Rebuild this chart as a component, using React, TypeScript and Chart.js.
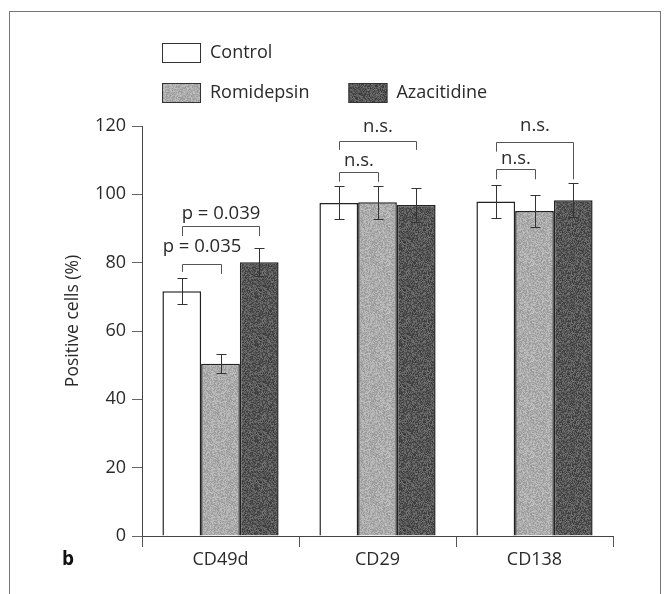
import React, { useEffect, useRef } from "react";
import { Chart, registerables } from "chart.js";

Chart.register(...registerables);

const categories = ["CD49d", "CD29", "CD138"];
const seriesNames = ["Control", "Romidepsin", "Azacitidine"];
const controlValues = [71.6, 97.5, 97.9];
const controlErrors = [3.8, 4.8, 4.9];
const romidepsinValues = [50.4, 97.7, 95.1];
const romidepsinErrors = [2.8, 4.8, 4.8];
const azacitidineValues = [80.1, 96.9, 98.3];
const azacitidineErrors = [4.1, 4.9, 5.0];
const yMin = 0;
const yMax = 120;
const yStep = 20;
const yTitle = "Positive cells (%)";
const panelLetter = "b";

// significance brackets: category, series from/to, bracket level, leg ends, label, label baseline
const bracketCategory = [0, 0, 1, 1, 2, 2];
const bracketFrom = [0, 0, 0, 0, 0, 0];
const bracketTo = [1, 2, 1, 2, 1, 2];
const bracketLevel = [79.5, 90.7, 106.5, 115.6, 107.3, 115.4];
const bracketLegFrom = [77.3, 87.8, 103.7, 113.0, 104.4, 112.5];
const bracketLegTo = [76.7, 87.8, 103.7, 113.0, 104.4, 104.4];
const bracketLabels = ["p = 0.035", "p = 0.039", "n.s.", "n.s.", "n.s.", "n.s."];
const bracketLabelY = [83.2, 92.8, 108.2, 118.2, 108.9, 118.4];

const FONT = "'Open Sans', 'DejaVu Sans', sans-serif";
const TEXT = "#2a2a2a";

function hash(x: number, y: number, s: number) {
  let h = (x * 374761393 + y * 668265263 + s * 982451653) | 0;
  h = (h ^ (h >>> 13)) * 1274126177;
  h = h ^ (h >>> 16);
  return ((h >>> 0) % 1000) / 1000;
}

function makePattern(base: number, spread: number, seed: number): CanvasPattern | string {
  const c = document.createElement("canvas");
  c.width = 48;
  c.height = 48;
  const ctx = c.getContext("2d");
  if (!ctx) return `rgb(${base},${base},${base})`;
  const img = ctx.createImageData(48, 48);
  for (let y = 0; y < 48; y++) {
    for (let x = 0; x < 48; x++) {
      const v = Math.max(0, Math.min(255, Math.round(base + (hash(x, y, seed) - 0.5) * spread)));
      const i = (y * 48 + x) * 4;
      img.data[i] = v;
      img.data[i + 1] = v;
      img.data[i + 2] = v;
      img.data[i + 3] = 255;
    }
  }
  ctx.putImageData(img, 0, 0);
  const p = ctx.createPattern(c, "repeat");
  return p || `rgb(${base},${base},${base})`;
}

const errorsBySeries = [controlErrors, romidepsinErrors, azacitidineErrors];

const overlayPlugin = {
  id: "overlay",
  afterDatasetsDraw(chart: any) {
    const ctx: CanvasRenderingContext2D = chart.ctx;
    const yScale = chart.scales.y;
    const area = chart.chartArea;
    ctx.save();

    // error bars
    ctx.strokeStyle = "#333";
    ctx.lineWidth = 1;
    chart.data.datasets.forEach((ds: any, di: number) => {
      const meta = chart.getDatasetMeta(di);
      meta.data.forEach((bar: any, j: number) => {
        const v = ds.data[j];
        const e = errorsBySeries[di][j];
        const x = Math.round(bar.x) + 0.5;
        const yt = Math.round(yScale.getPixelForValue(v + e)) + 0.5;
        const yb = Math.round(yScale.getPixelForValue(v - e)) + 0.5;
        ctx.beginPath();
        ctx.moveTo(x, yt);
        ctx.lineTo(x, yb);
        ctx.moveTo(x - 5, yt);
        ctx.lineTo(x + 5, yt);
        ctx.moveTo(x - 5, yb);
        ctx.lineTo(x + 5, yb);
        ctx.stroke();
      });
    });

    // brackets
    ctx.strokeStyle = "#555";
    ctx.fillStyle = TEXT;
    ctx.font = `18.5px ${FONT}`;
    ctx.textAlign = "center";
    ctx.textBaseline = "alphabetic";
    bracketLabels.forEach((label, k) => {
      const c = bracketCategory[k];
      const xa = Math.round(chart.getDatasetMeta(bracketFrom[k]).data[c].x) + 0.5;
      const xb = Math.round(chart.getDatasetMeta(bracketTo[k]).data[c].x) + 0.5;
      const yl = Math.round(yScale.getPixelForValue(bracketLevel[k])) + 0.5;
      const ya = yScale.getPixelForValue(bracketLegFrom[k]);
      const yb = yScale.getPixelForValue(bracketLegTo[k]);
      ctx.beginPath();
      ctx.moveTo(xa, ya);
      ctx.lineTo(xa, yl);
      ctx.lineTo(xb, yl);
      ctx.lineTo(xb, yb);
      ctx.stroke();
      ctx.fillText(label, (xa + xb) / 2, yScale.getPixelForValue(bracketLabelY[k]));
    });

    // legend
    ctx.font = `18px ${FONT}`;
    ctx.textAlign = "left";
    ctx.textBaseline = "middle";
    const boxW = 39;
    const boxH = 20;
    const lx = area.left + 20;
    const rows = [
      { idx: [0], y: 31 },
      { idx: [1, 2], y: 71 },
    ];
    rows.forEach((row) => {
      let x = lx;
      row.idx.forEach((di) => {
        const ds = chart.data.datasets[di];
        ctx.fillStyle = ds.backgroundColor;
        ctx.fillRect(x, row.y, boxW, boxH);
        ctx.strokeStyle = "#333";
        ctx.lineWidth = 1;
        ctx.strokeRect(x + 0.5, row.y + 0.5, boxW - 1, boxH - 1);
        ctx.fillStyle = TEXT;
        const tx = x + boxW + 9;
        ctx.fillText(ds.label, tx, row.y + boxH / 2);
        x = tx + ctx.measureText(ds.label).width + 39;
      });
    });

    // y title
    ctx.save();
    ctx.translate(63, (area.top + area.bottom) / 2 - 10);
    ctx.rotate(-Math.PI / 2);
    ctx.textAlign = "center";
    ctx.textBaseline = "middle";
    ctx.fillStyle = TEXT;
    ctx.font = `17.5px ${FONT}`;
    ctx.fillText(yTitle, 0, 0);
    ctx.restore();

    // panel letter
    ctx.font = `bold 19px ${FONT}`;
    ctx.textAlign = "center";
    ctx.textBaseline = "middle";
    ctx.fillStyle = "#111";
    ctx.fillText(panelLetter, 58, area.bottom + 24);

    ctx.restore();
  },
};

export default function App() {
  const ref = useRef<HTMLCanvasElement | null>(null);

  useEffect(() => {
    if (!ref.current) return;
    const romiFill = makePattern(172, 45, 7);
    const azaFill = makePattern(86, 60, 13);
    const chart = new Chart(ref.current, {
      type: "bar",
      data: {
        labels: categories,
        datasets: [
          {
            label: seriesNames[0],
            data: controlValues,
            backgroundColor: "#ffffff",
            borderColor: "#222",
            borderWidth: 1.5,
          },
          {
            label: seriesNames[1],
            data: romidepsinValues,
            backgroundColor: romiFill as any,
            borderColor: "#222",
            borderWidth: 1.5,
          },
          {
            label: seriesNames[2],
            data: azacitidineValues,
            backgroundColor: azaFill as any,
            borderColor: "#222",
            borderWidth: 1.5,
          },
        ],
      },
      options: {
        responsive: false,
        animation: false,
        devicePixelRatio: 1,
        categoryPercentage: 0.74,
        barPercentage: 1.0,
        layout: { padding: { left: 0, right: 47, top: 114, bottom: 18 } },
        plugins: {
          legend: { display: false },
          tooltip: { enabled: false },
          title: { display: false },
        },
        scales: {
          x: {
            offset: true,
            grid: {
              offset: true,
              drawOnChartArea: false,
              drawTicks: true,
              tickLength: 11,
              color: "#555",
            },
            border: { display: true, color: "#444", width: 1 },
            ticks: {
              color: TEXT,
              font: { family: FONT, size: 18 },
              padding: 2,
            },
            afterFit: (axis: any) => {
              axis.height = 40;
            },
          },
          y: {
            min: yMin,
            max: yMax,
            grid: {
              drawOnChartArea: false,
              drawTicks: true,
              tickLength: 10,
              color: "#666",
            },
            border: { display: true, color: "#444", width: 1 },
            ticks: {
              stepSize: yStep,
              color: TEXT,
              font: { family: FONT, size: 18 },
              padding: 6,
            },
            afterFit: (axis: any) => {
              axis.width = 132;
            },
          },
        },
      },
      plugins: [overlayPlugin],
    });
    return () => chart.destroy();
  }, []);

  return (
    <div
      style={{
        position: "absolute",
        left: 9,
        top: 11,
        width: 650,
        height: 583,
        border: "1px solid #777",
        borderBottom: "none",
        background: "#fff",
      }}
    >
      <canvas ref={ref} width={650} height={582} style={{ display: "block" }} />
    </div>
  );
}
